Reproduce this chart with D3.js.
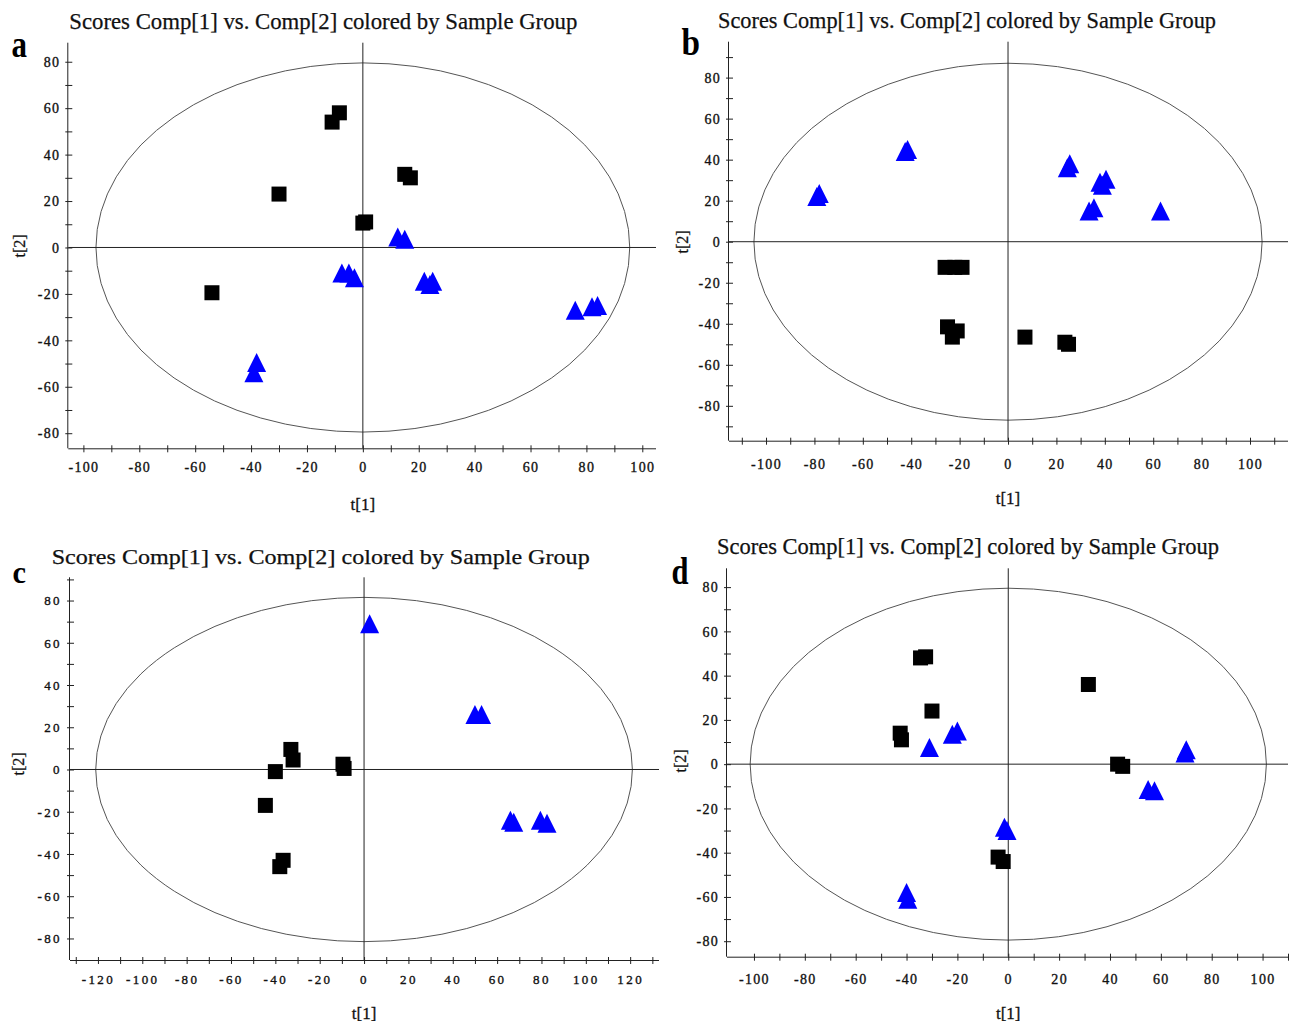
<!DOCTYPE html>
<html>
<head>
<meta charset="utf-8">
<script src="https://cdn.jsdelivr.net/npm/d3@7"></script>
<style>
  html, body { margin: 0; padding: 0; background: #fff; }
  svg { display: block; }
</style>
</head>
<body>
<svg id="chart" width="1290" height="1021"></svg>
<script>
// ---------------- DATA ----------------
const titleText = "Scores Comp[1] vs. Comp[2] colored by Sample Group";
const panelLetters = ["a", "b", "c", "d"];
const xAxisTitle = "t[1]";
const yAxisTitle = "t[2]";

// axis extents (data units)
const xDomainA = [-105.4, 104.9], yDomainA = [-86.5, 88.2];
const xDomainB = [-115.3, 115.7], yDomainB = [-97, 97.5];
const xDomainC = [-132.6, 133],   yDomainC = [-90.2, 91];
const xDomainD = [-110.6, 110],   yDomainD = [-87, 88.5];

// tick labels
const xLabelsA = [-100, -80, -60, -40, -20, 0, 20, 40, 60, 80, 100];
const yLabelsA = [-80, -60, -40, -20, 0, 20, 40, 60, 80];
const xLabelsB = [-100, -80, -60, -40, -20, 0, 20, 40, 60, 80, 100];
const yLabelsB = [-80, -60, -40, -20, 0, 20, 40, 60, 80];
const xLabelsC = [-120, -100, -80, -60, -40, -20, 0, 20, 40, 60, 80, 100, 120];
const yLabelsC = [-80, -60, -40, -20, 0, 20, 40, 60, 80];
const xLabelsD = [-100, -80, -60, -40, -20, 0, 20, 40, 60, 80, 100];
const yLabelsD = [-80, -60, -40, -20, 0, 20, 40, 60, 80];

// Hotelling ellipse radii [t1, t2]
const ellipseA = [95.5, 79.5];
const ellipseB = [105, 87];
const ellipseC = [121, 81.5];
const ellipseD = [101.5, 79.5];

// scores: group 1 (black squares), group 2 (blue triangles)
const squaresA = [[-11, 54], [-8.4, 58], [-30, 23], [15, 31.5], [17, 30], [0, 10.5], [1, 11], [-54, -19.5]];
const trianglesA = [[12.5, 4.5], [15, 3.5], [-7.5, -11], [-5, -11], [-3, -13], [22, -14.5], [25, -14.5], [24, -16],
                    [-38, -49.5], [-39, -54], [76, -27], [82, -25.5], [84, -25]];

const squaresB = [[-26, -12.5], [-22, -12.5], [-19, -12.5], [-25, -41.5], [-21, -43.5], [-23, -46.5], [7, -46.5], [23.5, -49], [25, -50]];
const trianglesB = [[-79, 22], [-78, 23.5], [-42.5, 44], [-41.5, 45], [24.5, 36], [25.5, 38], [38, 29], [40.5, 30.5], [39, 27.5],
                    [33.5, 15], [35.5, 16.5], [63, 15]];

const squaresC = [[-33, 9.5], [-32, 4.5], [-40, -1], [-9.5, 2.5], [-9, 0.5], [-44.5, -17], [-36.5, -43], [-38, -46]];
const trianglesC = [[2.5, 69], [50, 26], [53, 26], [66, -24], [67.5, -25], [79.5, -24], [82.5, -25.5]];

const squaresD = [[-34.5, 48], [-32.5, 48.5], [-30, 24], [-42.5, 14], [-42, 11], [31.5, 36], [43, 0], [45, -1], [-4, -42], [-2, -44]];
const trianglesD = [[-31, 7.5], [-22, 13.5], [-20, 15], [69.5, 5], [70, 6.5], [55, -11.5], [57.5, -12], [-1.5, -28.5], [-0.5, -30],
                    [-40, -58], [-39.5, -61]];

// ---------------- LAYOUT ----------------
const panels = [
  { letter: panelLetters[0], xDom: xDomainA, yDom: yDomainA, xLab: xLabelsA, yLab: yLabelsA, ell: ellipseA, sq: squaresA, tr: trianglesA,
    box: { l: 68.3, r: 656, t: 42.7, b: 448.3 },
    title: { x: 69.3, w: 508, y: 29, size: 23 },
    let: { x: 11.5, y: 57, w: 15.5, size: 38 },
    xlabY: 462.5, xtitleY: 509.5, ytitle: [19, 246], tickFont: 14, tickLS: 1.3 },
  { letter: panelLetters[1], xDom: xDomainB, yDom: yDomainB, xLab: xLabelsB, yLab: yLabelsB, ell: ellipseB, sq: squaresB, tr: trianglesB,
    box: { l: 729, r: 1288, t: 41.7, b: 440.7 },
    title: { x: 718, w: 498, y: 28, size: 23 },
    let: { x: 681.5, y: 54.5, w: 18.5, size: 37 },
    xlabY: 459.5, xtitleY: 503.5, ytitle: [682, 242], tickFont: 14, tickLS: 1.3 },
  { letter: panelLetters[2], xDom: xDomainC, yDom: yDomainC, xLab: xLabelsC, yLab: yLabelsC, ell: ellipseC, sq: squaresC, tr: trianglesC,
    box: { l: 70, r: 659, t: 577.3, b: 960 },
    title: { x: 51.7, w: 538, y: 563.5, size: 22 },
    let: { x: 12.5, y: 583, w: 13.5, size: 31 },
    xlabY: 974.5, xtitleY: 1018.5, ytitle: [18, 764], tickFont: 13, tickLS: 2.4 },
  { letter: panelLetters[3], xDom: xDomainD, yDom: yDomainD, xLab: xLabelsD, yLab: yLabelsD, ell: ellipseD, sq: squaresD, tr: trianglesD,
    box: { l: 727, r: 1288, t: 568.3, b: 956.7 },
    title: { x: 717, w: 502, y: 554, size: 23 },
    let: { x: 671.5, y: 584, w: 17, size: 37 },
    xlabY: 974.5, xtitleY: 1018.5, ytitle: [680, 761], tickFont: 14, tickLS: 1.3 }
];

const svg = d3.select("#chart");
const serif = "'Liberation Serif', 'Times New Roman', serif";
const AXIS = "#222";
const SQ = 15, TW = 19, TH = 19;

panels.forEach(p => {
  const g = svg.append("g");
  const x = d3.scaleLinear().domain(p.xDom).range([p.box.l, p.box.r]);
  const y = d3.scaleLinear().domain(p.yDom).range([p.box.b, p.box.t]);

  // title
  g.append("text")
    .attr("x", p.title.x).attr("y", p.title.y)
    .attr("font-family", serif).attr("font-size", p.title.size)
    .attr("textLength", p.title.w).attr("lengthAdjust", "spacingAndGlyphs")
    .attr("fill", "#111").attr("stroke", "#111").attr("stroke-width", 0.25)
    .text(titleText);

  // panel letter
  g.append("text")
    .attr("x", p.let.x).attr("y", p.let.y)
    .attr("font-family", serif).attr("font-weight", "bold").attr("font-size", p.let.size)
    .attr("textLength", p.let.w).attr("lengthAdjust", "spacingAndGlyphs")
    .attr("fill", "#000")
    .text(p.letter);

  // ellipse
  g.append("ellipse")
    .attr("cx", x(0)).attr("cy", y(0))
    .attr("rx", x(p.ell[0]) - x(0)).attr("ry", y(0) - y(p.ell[1]))
    .attr("fill", "none").attr("stroke", "#555").attr("stroke-width", 1);

  // zero lines
  g.append("line").attr("x1", p.box.l).attr("x2", p.box.r).attr("y1", y(0)).attr("y2", y(0))
    .attr("stroke", AXIS).attr("stroke-width", 1);
  g.append("line").attr("x1", x(0)).attr("x2", x(0)).attr("y1", p.box.t).attr("y2", p.box.b)
    .attr("stroke", AXIS).attr("stroke-width", 1);

  // minor tick values every 10
  const xTicks = d3.range(Math.ceil(p.xDom[0] / 10) * 10, p.xDom[1] + 0.001, 10).filter(v => x(v) > p.box.l + 2);
  const yTicks = d3.range(Math.ceil(p.yDom[0] / 10) * 10, p.yDom[1] + 0.001, 10).filter(v => y(v) < p.box.b - 2);
  const xLabSet = new Set(p.xLab), yLabSet = new Set(p.yLab);

  // x axis
  const gx = g.append("g").attr("transform", `translate(0,${p.box.b})`)
    .call(d3.axisBottom(x).tickValues(xTicks).tickSize(3).tickSizeOuter(0)
      .tickFormat(v => xLabSet.has(v) ? String(v) : ""));
  gx.select(".domain").attr("d", `M${p.box.l},0.5H${p.box.r}`).attr("stroke", AXIS);
  gx.selectAll(".tick line").attr("y1", -3).attr("y2", 4).attr("stroke", AXIS);
  gx.selectAll(".tick text")
    .attr("y", p.xlabY - p.box.b).attr("dy", "0.71em")
    .attr("font-family", serif).attr("font-size", p.tickFont)
    .attr("letter-spacing", p.tickLS).attr("fill", "#111")
    .attr("stroke", "#111").attr("stroke-width", 0.35);

  // y axis
  const gy = g.append("g").attr("transform", `translate(${p.box.l},0)`)
    .call(d3.axisLeft(y).tickValues(yTicks).tickSize(3).tickSizeOuter(0)
      .tickFormat(v => yLabSet.has(v) ? String(v) : ""));
  gy.select(".domain").attr("d", `M-0.5,${p.box.t}V${p.box.b}`).attr("stroke", AXIS);
  gy.selectAll(".tick line").attr("x1", -3).attr("x2", 4).attr("stroke", AXIS);
  gy.selectAll(".tick text")
    .attr("x", -8).attr("dy", "0.34em")
    .attr("font-family", serif).attr("font-size", p.tickFont)
    .attr("letter-spacing", p.tickLS).attr("fill", "#111")
    .attr("stroke", "#111").attr("stroke-width", 0.35);

  // axis titles
  g.append("text")
    .attr("x", x(0)).attr("y", p.xtitleY).attr("text-anchor", "middle")
    .attr("font-family", serif).attr("font-size", 17).attr("fill", "#111")
    .attr("stroke", "#111").attr("stroke-width", 0.3)
    .text(xAxisTitle);
  g.append("text")
    .attr("transform", `translate(${p.ytitle[0]},${p.ytitle[1]}) rotate(-90)`)
    .attr("text-anchor", "middle").attr("dy", "0.35em")
    .attr("font-family", serif).attr("font-size", 16).attr("fill", "#111")
    .attr("stroke", "#111").attr("stroke-width", 0.3)
    .text(yAxisTitle);

  // squares
  g.append("g").selectAll("rect").data(p.sq).join("rect")
    .attr("x", d => x(d[0]) - SQ / 2).attr("y", d => y(d[1]) - SQ / 2)
    .attr("width", SQ).attr("height", SQ)
    .attr("fill", "#000");

  // triangles
  g.append("g").selectAll("path").data(p.tr).join("path")
    .attr("d", d => {
      const cx = x(d[0]), cy = y(d[1]);
      const pth = d3.path();
      pth.moveTo(cx, cy - TH / 2);
      pth.lineTo(cx + TW / 2, cy + TH / 2);
      pth.lineTo(cx - TW / 2, cy + TH / 2);
      pth.closePath();
      return pth.toString();
    })
    .attr("fill", "#0000ff");
});
</script>
</body>
</html>
